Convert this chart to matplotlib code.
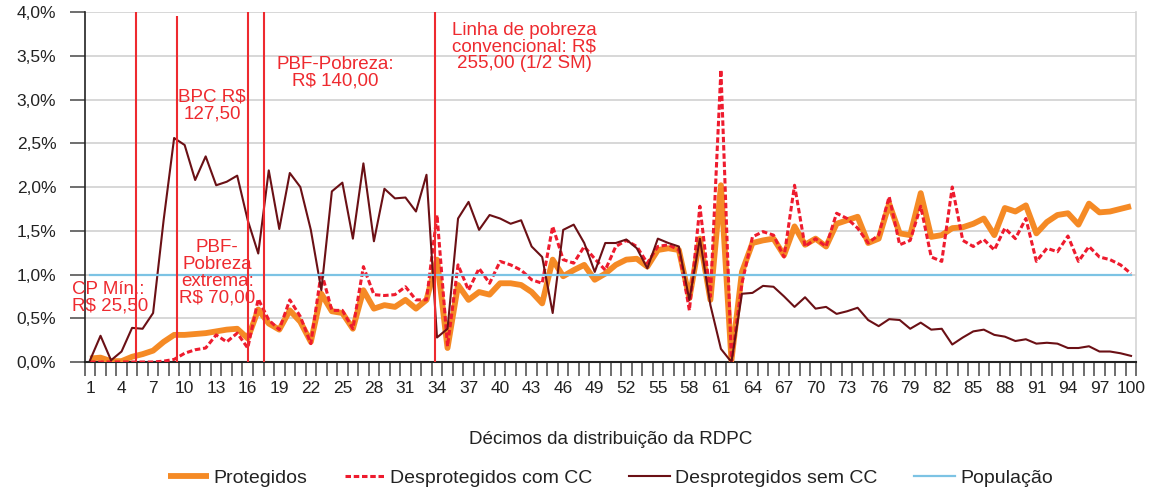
import matplotlib
matplotlib.use('Agg')
import matplotlib.pyplot as plt
from matplotlib.lines import Line2D

plt.rcParams['font.family'] = ['Liberation Sans', 'DejaVu Sans']

# dados -------------------------
decimos = list(range(1, 101))

protegidos = [
    0.04, 0.05, 0.01, 0.01, 0.06, 0.09, 0.13, 0.23, 0.31, 0.31,
    0.32, 0.33, 0.35, 0.37, 0.38, 0.27, 0.60, 0.44, 0.37, 0.59,
    0.46, 0.23, 0.78, 0.58, 0.56, 0.38, 0.82, 0.61, 0.65, 0.63,
    0.71, 0.61, 0.71, 1.17, 0.16, 0.88, 0.71, 0.80, 0.77, 0.90,
    0.90, 0.88, 0.80, 0.67, 1.17, 0.98, 1.05, 1.11, 0.94, 1.01,
    1.11, 1.17, 1.18, 1.09, 1.28, 1.30, 1.28, 0.73, 1.41, 0.71,
    2.02, 0.02, 1.03, 1.36, 1.39, 1.41, 1.22, 1.55, 1.34, 1.41,
    1.32, 1.58, 1.62, 1.66, 1.36, 1.41, 1.81, 1.47, 1.45, 1.93,
    1.43, 1.45, 1.53, 1.54, 1.58, 1.64, 1.45, 1.76, 1.72, 1.79,
    1.47, 1.60, 1.68, 1.70, 1.57, 1.81, 1.71, 1.72, 1.75, 1.78,
]

desprot_com_cc = [
    0.00, 0.00, 0.00, 0.00, 0.00, 0.00, 0.00, 0.01, 0.03, 0.10,
    0.14, 0.16, 0.31, 0.23, 0.33, 0.16, 0.72, 0.48, 0.37, 0.71,
    0.52, 0.21, 1.03, 0.59, 0.59, 0.38, 1.09, 0.77, 0.76, 0.77,
    0.86, 0.71, 0.71, 1.68, 0.18, 1.11, 0.82, 1.07, 0.90, 1.15,
    1.11, 1.05, 0.94, 0.90, 1.55, 1.17, 1.13, 1.32, 1.18, 1.05,
    1.32, 1.39, 1.32, 1.13, 1.32, 1.34, 1.28, 0.59, 1.78, 0.75,
    3.34, 0.00, 0.90, 1.43, 1.49, 1.45, 1.20, 2.02, 1.32, 1.41,
    1.32, 1.70, 1.64, 1.53, 1.36, 1.45, 1.89, 1.34, 1.39, 1.78,
    1.20, 1.15, 2.00, 1.39, 1.32, 1.40, 1.28, 1.53, 1.41, 1.64,
    1.15, 1.30, 1.26, 1.44, 1.15, 1.32, 1.20, 1.17, 1.11, 1.01,
]

desprot_sem_cc = [
    0.02, 0.30, 0.02, 0.12, 0.39, 0.38, 0.56, 1.62, 2.56, 2.48,
    2.08, 2.35, 2.02, 2.06, 2.13, 1.62, 1.24, 2.19, 1.52, 2.16,
    2.00, 1.51, 0.82, 1.95, 2.05, 1.41, 2.27, 1.38, 1.98, 1.87,
    1.88, 1.72, 2.14, 0.28, 0.38, 1.64, 1.83, 1.51, 1.68, 1.64,
    1.58, 1.62, 1.32, 1.20, 0.56, 1.51, 1.57, 1.36, 1.03, 1.36,
    1.36, 1.40, 1.30, 1.07, 1.41, 1.36, 1.32, 0.71, 1.41, 0.65,
    0.15, 0.00, 0.78, 0.79, 0.87, 0.86, 0.75, 0.63, 0.74, 0.61,
    0.63, 0.55, 0.58, 0.62, 0.48, 0.41, 0.49, 0.48, 0.38, 0.45,
    0.37, 0.38, 0.20, 0.28, 0.35, 0.37, 0.31, 0.29, 0.24, 0.26,
    0.21, 0.22, 0.21, 0.16, 0.16, 0.18, 0.12, 0.12, 0.10, 0.07,
]

populacao = [1.0] * 100

xtick_pos = list(range(1, 101, 3))
ytick_pos = [0, 0.5, 1.0, 1.5, 2.0, 2.5, 3.0, 3.5, 4.0]
ytick_labels = ['0,0%', '0,5%', '1,0%', '1,5%', '2,0%', '2,5%', '3,0%', '3,5%', '4,0%']

# linhas verticais (posicao no eixo dos decimos)
linhas_x = [5.4, 9.3, 16.0, 17.5, 33.8]
linhas_topo = [4.0, 3.96, 4.0, 4.0, 4.0]

# grafico -------------------------
VERMELHO = '#ee2a2f'

fig = plt.figure(figsize=(11.53, 4.92), dpi=100)
ax = fig.add_axes([0.0735, 0.2642, 0.912, 0.7114])

ax.plot(decimos, protegidos, color='#f58a25', lw=4.2, solid_capstyle='butt', zorder=3)
ax.plot(decimos, desprot_com_cc, color='#ee1b2e', lw=2.2, dashes=(1.8, 0.9), zorder=4)
ax.plot(decimos, desprot_sem_cc, color='#6b1015', lw=1.5, zorder=5)
ax.plot(decimos, populacao, color='#7cc3e4', lw=1.6, zorder=6)

ax.vlines(linhas_x, 0, linhas_topo, colors=VERMELHO, lw=1.5, zorder=7)

ax.set_xlim(0.5, 100.5)
ax.set_ylim(0, 4)

ax.set_yticks(ytick_pos)
ax.set_yticklabels(ytick_labels)
ax.set_xticks(xtick_pos)
ax.set_xticks([k + 0.5 for k in range(0, 101)], minor=True)
ax.tick_params(axis='x', which='major', length=0, pad=14, labelsize=12.5, colors='#222222')
ax.tick_params(axis='x', which='minor', length=10, width=1.2, color='#555555', direction='out')
ax.tick_params(axis='y', length=10.5, width=1.2, color='#555555', pad=10, labelsize=12.5,
               labelcolor='#222222')

ax.grid(axis='y', color='#d4d4d4', lw=1.3, zorder=0)
ax.set_axisbelow(True)
ax.spines['top'].set_visible(False)
ax.spines['right'].set_color('#d4d4d4')
ax.spines['right'].set_linewidth(1.2)
ax.spines['left'].set_color('#222222')
ax.spines['left'].set_linewidth(1.2)
ax.spines['bottom'].set_color('#222222')
ax.spines['bottom'].set_linewidth(1.5)

# textos em vermelho
txt = dict(color=VERMELHO, fontsize=13.5, linespacing=0.97, zorder=8)
ax.text(-0.7, 0.73, 'CP Mín.:\nR$ 25,50', ha='left', va='center', **txt)
ax.text(12.6, 2.93, 'BPC R$\n127,50', ha='center', va='center', **txt)
ax.text(24.3, 3.31, 'PBF-Pobreza:\nR$ 140,00', ha='center', va='center', **txt)
ax.text(13.1, 1.02, 'PBF-\nPobreza\nextrema:\nR$ 70,00', ha='center', va='center', **txt)
ax.text(42.3, 3.6, 'Linha de pobreza\nconvencional: R$\n255,00 (1/2 SM)',
        ha='center', va='center', **txt)

fig.text(0.5295, 0.106, 'Décimos da distribuição da RDPC', ha='center', va='center',
         fontsize=13.6, color='#222222')

handles = [
    Line2D([], [], color='#f58a25', lw=4.2, solid_capstyle='butt'),
    Line2D([], [], color='#ee1b2e', lw=2.2, dashes=(1.8, 0.9)),
    Line2D([], [], color='#6b1015', lw=1.5),
    Line2D([], [], color='#7cc3e4', lw=1.6),
]
nomes = ['Protegidos', 'Desprotegidos com CC', 'Desprotegidos sem CC', 'População']
fig.legend(handles, nomes, loc='center', bbox_to_anchor=(0.5295, 0.028), ncol=4,
           frameon=False, fontsize=14, handlelength=2.1, handletextpad=0.25,
           columnspacing=1.9, labelcolor='#222222')

fig.savefig('out.png', dpi=100)
